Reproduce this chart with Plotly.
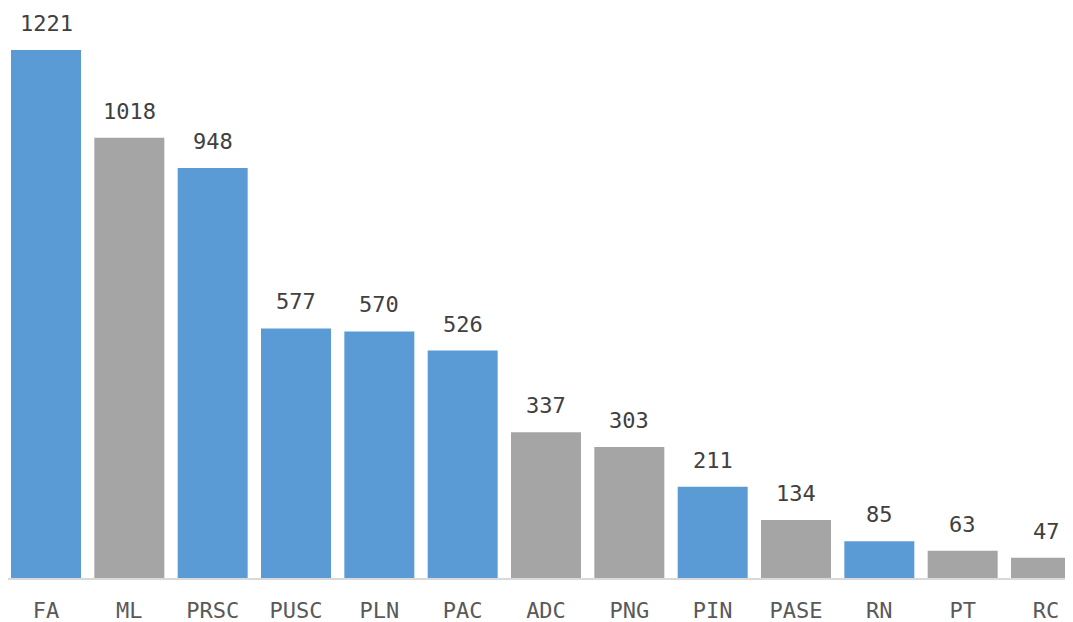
import plotly.graph_objects as go

categories = ["FA", "ML", "PRSC", "PUSC", "PLN", "PAC", "ADC", "PNG", "PIN", "PASE", "RN", "PT", "RC"]
counts = [1221, 1018, 948, 577, 570, 526, 337, 303, 211, 134, 85, 63, 47]
groups = ["blue", "gray", "blue", "blue", "blue", "blue", "gray", "gray", "blue", "gray", "blue", "gray", "gray"]

palette = {"blue": "#5B9BD5", "gray": "#A5A5A5"}
font_family = "DejaVu Sans Mono"

fig = go.Figure(
    go.Bar(
        x=categories,
        y=counts,
        marker_color=[palette[g] for g in groups],
        marker_line_width=0,
        hoverinfo="x+y",
    )
)

# value labels sit well above the bars, so annotations instead of bar text
for cat, val in zip(categories, counts):
    fig.add_annotation(
        x=cat, y=val, text=str(val),
        showarrow=False, yanchor="bottom", yshift=12,
        font=dict(family=font_family, size=22, color="#404040"),
    )

fig.update_layout(
    width=1073,
    height=622,
    margin=dict(l=0, r=0, t=0, b=52, autoexpand=False),
    plot_bgcolor="white",
    paper_bgcolor="white",
    bargap=0.16,
    showlegend=False,
    font=dict(family=font_family, color="#595959"),
)

fig.update_xaxes(
    range=[-0.456, 12.42],
    showline=True,
    linecolor="#D9D9D9",
    linewidth=2,
    ticks="",
    ticklabelstandoff=12,
    tickfont=dict(family=font_family, size=22, color="#595959"),
    showgrid=False,
)

fig.update_yaxes(
    range=[0, 1318],
    visible=False,
    showgrid=False,
)

fig.write_html("out.html")
